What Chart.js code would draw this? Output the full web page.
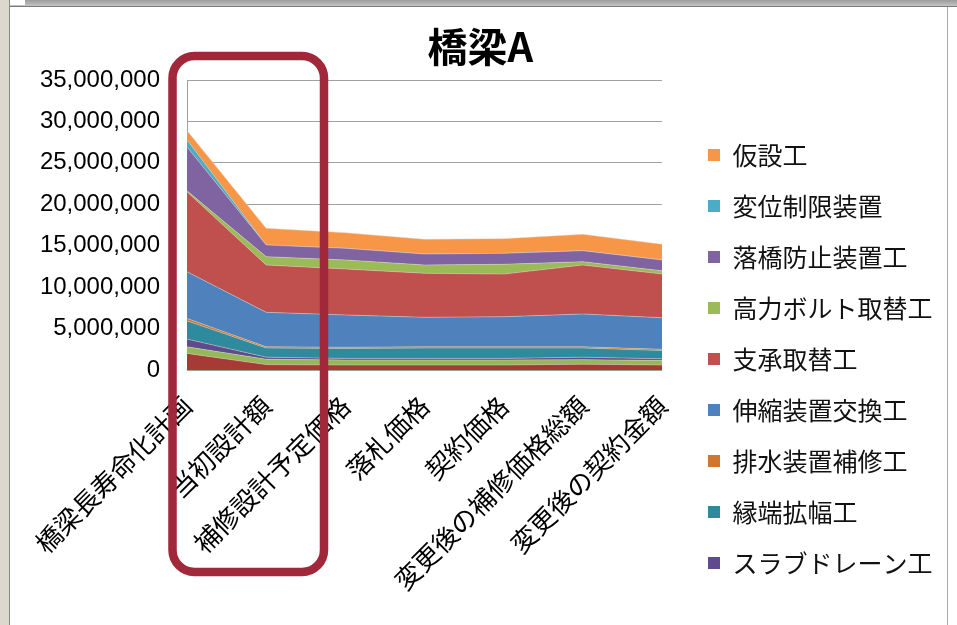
<!DOCTYPE html>
<html lang="ja">
<head>
<meta charset="utf-8">
<title>橋梁A</title>
<script src="https://cdn.jsdelivr.net/npm/chart.js@4.4.1/dist/chart.umd.min.js"></script>
<style>
  html, body { margin: 0; padding: 0; background: #fff; }
  #wrap { position: relative; width: 957px; height: 625px; overflow: hidden; }
  #chart { position: absolute; left: 0; top: 0; }
  .frame { position: absolute; pointer-events: none; }
  #topBar { left: 0; top: 0; width: 957px; height: 6px; background: linear-gradient(#9c9c9c, #c4c4c4); border-bottom: 1px solid #7a7a7a; }
  #topNotch { left: 10px; top: 0; width: 15px; height: 5px; background: #fff; }
  #leftBar { left: 0; top: 0; width: 9px; height: 625px; background: #dcd8ce; border-right: 1px solid #8a8a8a; }
  #rightLine { left: 947px; top: 7px; width: 1px; height: 618px; background: #a8a8a8; }
</style>
</head>
<body>
<div id="wrap">
  <canvas id="chart" width="957" height="625"></canvas>
  <div class="frame" id="topBar"></div>
  <div class="frame" id="topNotch"></div>
  <div class="frame" id="leftBar"></div>
  <div class="frame" id="rightLine"></div>
</div>
<script>
// 工種別の金額（円）  段階ごと
const categories = ['橋梁長寿命化計画', '当初設計額', '補修設計予定価格', '落札価格', '契約価格', '変更後の補修価格総額', '変更後の契約金額'];

// 下から積み上げる順
const danmen    = [2000000, 650000, 600000, 600000, 600000, 700000, 600000];
const hibiware  = [800000, 650000, 600000, 600000, 600000, 550000, 550000];
const slabDrain = [930000, 250000, 200000, 200000, 200000, 300000, 200000];
const entan     = [2200000, 1100000, 1200000, 1250000, 1250000, 1100000, 1000000];
const haisui    = [300000, 150000, 150000, 150000, 150000, 150000, 150000];
const shinshuku = [5630000, 4160000, 3890000, 3560000, 3630000, 3960000, 3810000];
const shisho    = [9640000, 5710000, 5550000, 5310000, 5150000, 5910000, 5280000];
const bolt      = [120000, 1010000, 1090000, 1000000, 1180000, 400000, 390000];
const rakkyo    = [5300000, 1410000, 1410000, 1330000, 1320000, 1330000, 1300000];
const heni      = [860000, 0, 0, 0, 0, 0, 0];
const kasetsu   = [1120000, 2010000, 1880000, 1770000, 1770000, 1970000, 1890000];

const yTicks = [0, 5000000, 10000000, 15000000, 20000000, 25000000, 30000000, 35000000];

const series = [
  { label: '断面修復工',       data: danmen,    color: '#a63a35' },
  { label: 'ひび割れ補修工',   data: hibiware,  color: '#93b95a' },
  { label: 'スラブドレーン工', data: slabDrain, color: '#604a8e' },
  { label: '縁端拡幅工',       data: entan,     color: '#2f8a9e' },
  { label: '排水装置補修工',   data: haisui,    color: '#d0762f' },
  { label: '伸縮装置交換工',   data: shinshuku, color: '#4f81bd' },
  { label: '支承取替工',       data: shisho,    color: '#c0504d' },
  { label: '高力ボルト取替工', data: bolt,      color: '#9bbb59' },
  { label: '落橋防止装置工',   data: rakkyo,    color: '#8064a2' },
  { label: '変位制限装置',     data: heni,      color: '#4bacc6' },
  { label: '仮設工',           data: kasetsu,   color: '#f79646' }
];

const JP_FONT = '"Noto Sans CJK JP", "Noto Sans", sans-serif';

// 強調用の枠
const highlightBox = {
  id: 'highlightBox',
  afterDraw(chart) {
    const ctx = chart.ctx;
    ctx.save();
    ctx.strokeStyle = '#a0283a';
    ctx.lineWidth = 8.5;
    ctx.beginPath();
    ctx.roundRect(172.5, 56, 151.5, 516, 22);
    ctx.stroke();
    ctx.restore();
  }
};

const ctx = document.getElementById('chart').getContext('2d');

new Chart(ctx, {
  type: 'line',
  data: {
    labels: categories,
    datasets: series.map((s, i) => ({
      label: s.label,
      data: s.data,
      backgroundColor: s.color,
      borderColor: 'rgba(225, 215, 200, 0.45)',
      borderWidth: 1,
      pointRadius: 0,
      pointHoverRadius: 0,
      tension: 0,
      fill: i === 0 ? 'origin' : '-1'
    }))
  },
  options: {
    responsive: false,
    animation: false,
    layout: { padding: { left: 18, right: 14.5, top: 0, bottom: 23.5 } },
    plugins: {
      title: {
        display: true,
        text: '橋梁A',
        color: '#000',
        font: { family: JP_FONT, size: 40, weight: 'bold' },
        padding: { top: 23, bottom: 9 }
      },
      legend: {
        position: 'right',
        align: 'end',
        reverse: true,
        maxWidth: 320,
        labels: {
          color: '#111',
          font: { family: JP_FONT, size: 25 },
          boxWidth: 12,
          boxHeight: 12,
          padding: 26,
          filter: item => item.datasetIndex >= 2,
          generateLabels(chart) {
            // 凡例の四角は系列の塗り色だけで描く
            return Chart.defaults.plugins.legend.labels.generateLabels(chart)
              .map(item => ({ ...item, strokeStyle: item.fillStyle, lineWidth: 0 }));
          }
        }
      },
      tooltip: { enabled: false }
    },
    scales: {
      x: {
        offset: false,
        grid: { display: false, drawTicks: false },
        border: { display: true, color: '#a0a0a0' },
        ticks: {
          color: '#000',
          font: { family: JP_FONT, size: 26 },
          autoSkip: false,
          minRotation: 45,
          maxRotation: 45,
          padding: 20
        },
        afterFit(scale) { scale.height = 231.5; }
      },
      y: {
        stacked: true,
        min: 0,
        max: 35000000,
        grid: { color: '#a0a0a0', drawTicks: false },
        border: { display: true, color: '#a0a0a0' },
        afterBuildTicks(scale) { scale.ticks = yTicks.map(v => ({ value: v })); },
        ticks: {
          color: '#000',
          font: { family: '"Liberation Sans", Arial, sans-serif', size: 24 },
          padding: 27,
          callback: v => v.toLocaleString('en-US')
        },
        afterFit(scale) { scale.width = 169; }
      },
      gap: {
        type: 'linear',
        position: 'right',
        display: true,
        grid: { display: false },
        border: { display: false },
        ticks: { display: false },
        afterFit(scale) { scale.width = 20; }
      }
    }
  },
  plugins: [highlightBox]
});
</script>
</body>
</html>
